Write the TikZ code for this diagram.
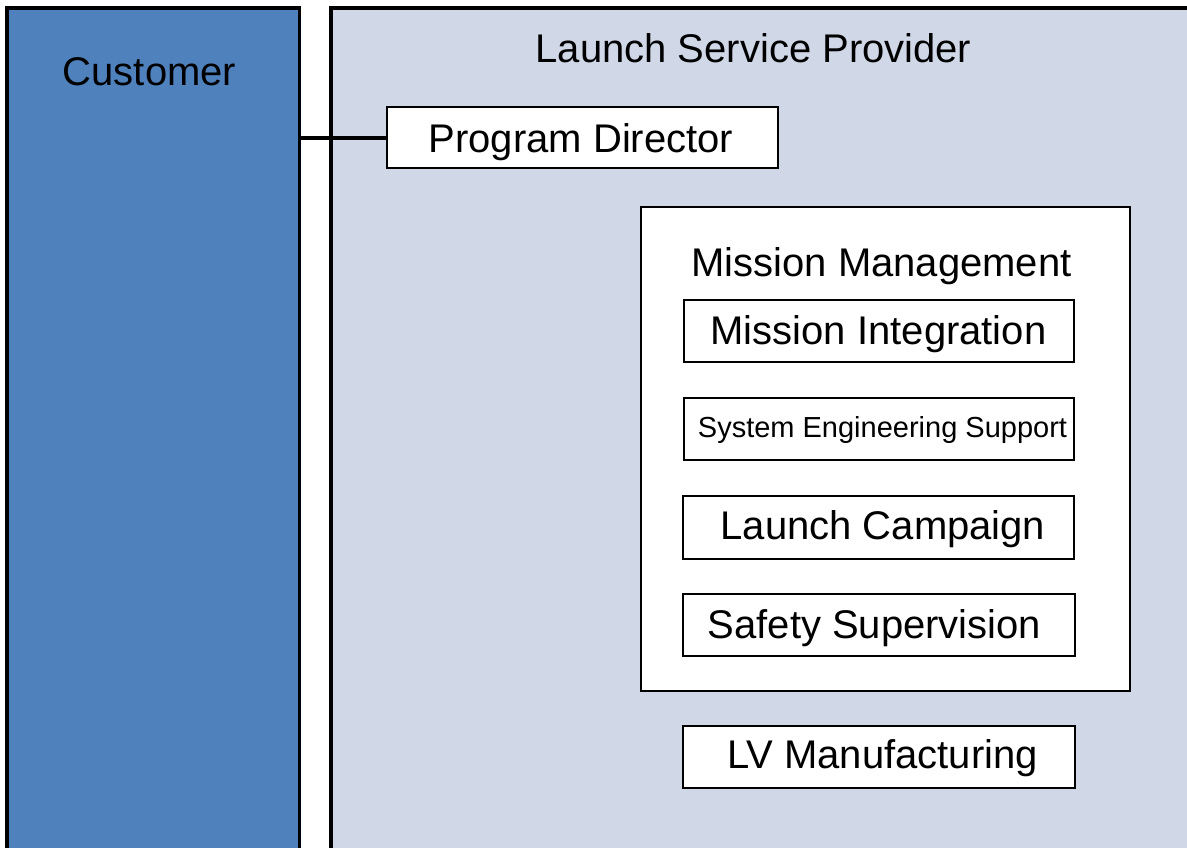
\documentclass[tikz,border=0pt]{standalone}
\usepackage{fontspec}
\setmainfont{Liberation Sans}
\definecolor{custblue}{HTML}{4F81BD}
\definecolor{lspfill}{HTML}{D0D8E8}
\begin{document}
\begin{tikzpicture}[x=1pt,y=-1pt,
  outer/.style={draw=black,line width=3.5pt,inner sep=0pt},
  inbox/.style={draw=black,line width=1.3pt,fill=white,inner sep=0pt},
  lbl/.style={anchor=base,inner sep=0pt,font=\fontsize{40}{48}\selectfont},
  smalllbl/.style={anchor=base,inner sep=0pt,font=\fontsize{29}{35}\selectfont},
  link/.style={draw=black,line width=4pt}]
\useasboundingbox (0,0) rectangle (1187,847);
\clip (0,0) rectangle (1187,847);
\fill[white] (0,0) rectangle (1187,847);
% big columns
\node[outer,fill=custblue,minimum width=292.5pt,minimum height=892pt] (cust) at (153.25,454) {};
\node[outer,fill=lspfill,minimum width=919pt,minimum height=892pt] (lsp) at (790.5,454) {};
\node[lbl] (custt) at (149.5,85) {Customer};
\node[lbl] (lspt) at (753.5,62) {Launch Service Provider};
% program director
\node[inbox,minimum width=391pt,minimum height=61pt] (pd) at (582.5,137.5) {};
\node[lbl] (pdt) at (581,152) {Program Director};
\draw[link] (cust.east |- pd.west) -- (pd.west);
% mission management
\node[inbox,minimum width=489pt,minimum height=484pt] (mm) at (885.5,449) {};
\node[lbl] (mmt) at (881.5,276) {Mission Management};
\node[inbox,minimum width=390pt,minimum height=62pt] (mi) at (879,331) {};
\node[lbl] (mit) at (878.5,344) {Mission Integration};
\node[inbox,minimum width=390pt,minimum height=62pt] (ses) at (879,429) {};
\node[smalllbl] (sest) at (882.5,437) {System Engineering Support};
\node[inbox,minimum width=391pt,minimum height=63pt] (lc) at (878.5,527.5) {};
\node[lbl] (lct) at (883,539) {Launch Campaign};
\node[inbox,minimum width=392pt,minimum height=62pt] (ss) at (879,625) {};
\node[lbl] (sst) at (874.5,638) {Safety Supervision};
% LV manufacturing
\node[inbox,minimum width=392pt,minimum height=62pt] (lv) at (879,757) {};
\node[lbl] (lvt) at (882.5,768) {LV Manufacturing};
\end{tikzpicture}
\end{document}
